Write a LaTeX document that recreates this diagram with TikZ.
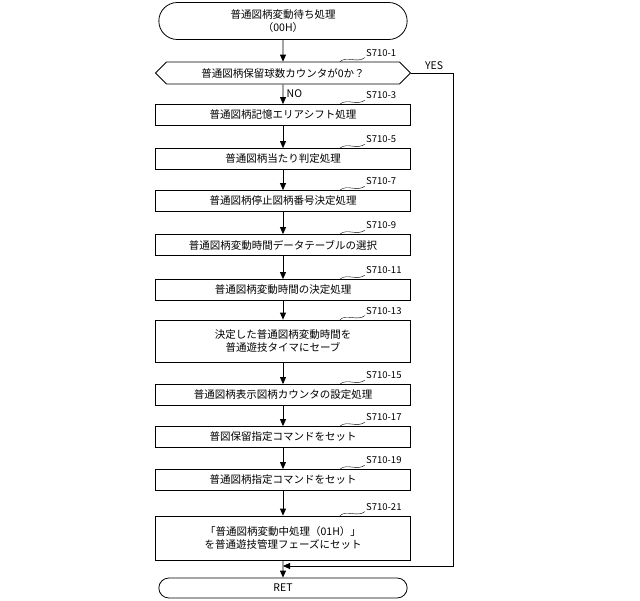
\documentclass[tikz,border=0pt]{standalone}
\usepackage{fontspec}
\setmainfont{Noto Sans CJK JP}
\usetikzlibrary{positioning,shapes.misc,shapes.symbols,shapes.geometric,arrows.meta,calc}

\begin{document}
\begin{tikzpicture}[x=1pt,y=-1pt,
    font=\fontsize{10.5}{13}\selectfont,
    procbox/.style={rectangle, draw, thick, fill=white, minimum width=255pt, minimum height=21pt, align=center, inner sep=1pt},
    term/.style={rounded rectangle, draw, thick, minimum width=255pt, align=center},
    decide/.style={signal, signal to=west and east, draw, thick, minimum width=255pt, minimum height=22pt, inner sep=1pt},
    arrow/.style={-{Triangle[length=7pt,width=6pt]}, thick},
    steplabel/.style={font=\fontsize{9.5}{10}\selectfont, anchor=south west, inner sep=1pt}
]
\useasboundingbox (0,0) rectangle (640,600);

% Blocks
\node[term, minimum height=37pt] (start) at (283,21) {普通図柄変動待ち処理\\（00H）};
\node[decide] (s1) at (283,73) {普通図柄保留球数カウンタが0か？};
\node[procbox] (s3) at (283,115) {普通図柄記憶エリアシフト処理};
\node[procbox] (s5) at (283,159) {普通図柄当たり判定処理};
\node[procbox] (s7) at (283,201) {普通図柄停止図柄番号決定処理};
\node[procbox] (s9) at (283,245) {普通図柄変動時間データテーブルの選択};
\node[procbox] (s11) at (283,290) {普通図柄変動時間の決定処理};
\node[procbox, minimum height=42pt] (s13) at (283,341) {決定した普通図柄変動時間を\\普通遊技タイマにセーブ};
\node[procbox] (s15) at (283,395) {普通図柄表示図柄カウンタの設定処理};
\node[procbox] (s17) at (283,437) {普図保留指定コマンドをセット};
\node[procbox] (s19) at (283,480) {普通図柄指定コマンドをセット};
\node[procbox, minimum height=44pt] (s21) at (283,538) {「普通図柄変動中処理（01H）」\\を普通遊技管理フェーズにセット};
\node[term, minimum height=20pt] (ret) at (283,588) {RET};

% Step labels
\foreach \n/\t in {s1/S710-1, s3/S710-3, s5/S710-5, s7/S710-7, s9/S710-9, s11/S710-11,
                   s13/S710-13, s15/S710-15, s17/S710-17, s19/S710-19, s21/S710-21} {
  \node[steplabel] (\n lbl) at ($(\n.north)+(82,-4)$) {\t};
  \draw ($(\n.north)+(57,0)$) .. controls ($(\n.north)+(64,-6)$) and ($(\n.north)+(74,2)$) .. (\n lbl.south west);
}

% Arrows
\draw[arrow] (start) -- (s1);
\draw[arrow] (s1) -- node[right, pos=0.45] {NO} (s3);
\draw[arrow] (s3) -- (s5);
\draw[arrow] (s5) -- (s7);
\draw[arrow] (s7) -- (s9);
\draw[arrow] (s9) -- (s11);
\draw[arrow] (s11) -- (s13);
\draw[arrow] (s13) -- (s15);
\draw[arrow] (s15) -- (s17);
\draw[arrow] (s17) -- (s19);
\draw[arrow] (s19) -- (s21);
\draw[arrow] (s21) -- (ret);

% YES branch
\coordinate (yesr) at (453,73);
\coordinate (join) at (283,566);
\draw[arrow] (s1.east) -- node[above, pos=0.55] {YES} (yesr) |- (join);
\end{tikzpicture}
\end{document}
